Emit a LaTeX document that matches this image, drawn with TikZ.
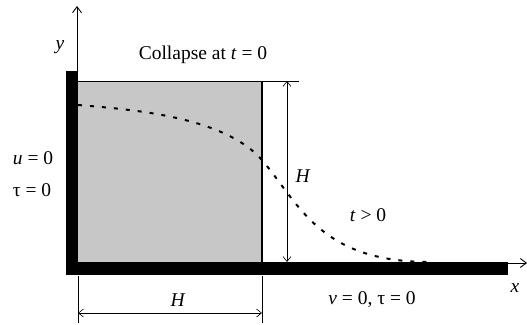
\documentclass[tikz,border=0pt]{standalone}
\usepackage{fontspec}
\setmainfont{Liberation Serif}
\usetikzlibrary{arrows.meta}
\begin{document}
\begin{tikzpicture}[x=1pt,y=-1pt,
  lbl/.style={font=\fontsize{19.5}{22}\selectfont, inner sep=0pt},
  dim/.style={line width=0.6pt, {Straight Barb[length=5pt,width=8pt]}-{Straight Barb[length=5pt,width=8pt]}},
  ext/.style={line width=0.6pt},
  axis/.style={line width=0.9pt, -{Straight Barb[length=6pt,width=9pt]}},
  wall/.style={fill=black},
  fluid/.style={fill=black!22},
  front/.style={line width=2pt, dash pattern=on 4pt off 8pt}]
\useasboundingbox (0,0) rectangle (527,324);
% fluid column
\fill[fluid] (78,81) rectangle (262,262);
\draw[line width=0.9pt] (78,81) -- (299,81);
\draw[line width=1.8pt] (262,81) -- (262,262);
% walls
\fill[wall] (66,71) rectangle (78,275);
\fill[wall] (66,262) rectangle (508,275);
% axes
\coordinate (o) at (77,275);
\coordinate (ytip) at (77,6);
\coordinate (ox) at (78,263);
\coordinate (xtip) at (527,263);
\draw[axis] (o) -- (ytip);
\draw[axis] (ox) -- (xtip);
% free surface t>0
\draw[front] (78,105) .. controls (140,110) and (225,118) .. (262,160)
  .. controls (300,205) and (320,262) .. (430,262);
% vertical dimension
\coordinate (vt) at (287,81);
\coordinate (vb) at (287,262);
\draw[dim] (vt) -- (vb);
% horizontal dimension
\coordinate (e1t) at (78,276);
\coordinate (e1b) at (78,323);
\coordinate (e2t) at (262,276);
\coordinate (e2b) at (262,323);
\draw[ext] (e1t) -- (e1b);
\draw[ext] (e2t) -- (e2b);
\coordinate (hl) at (78,313);
\coordinate (hr) at (262,313);
\draw[dim] (hl) -- (hr);
% labels
\node[lbl] (ylab) at (60,47) {\textit{y}};
\node[lbl] (collapse) at (203,55) {Collapse at \textit{t} = 0};
\node[lbl] (u0) at (33,158) {\textit{u} = 0};
\node[lbl] (tau0) at (32,190) {τ = 0};
\node[lbl] (hv) at (303,176) {\textit{H}};
\node[lbl] (tgt) at (368,215) {\textit{t} > 0};
\node[lbl] (hh) at (178,300) {\textit{H}};
\node[lbl] (v0) at (372,300) {\textit{v} = 0, τ = 0};
\node[lbl] (xlab) at (515,288) {\textit{x}};
\end{tikzpicture}
\end{document}
